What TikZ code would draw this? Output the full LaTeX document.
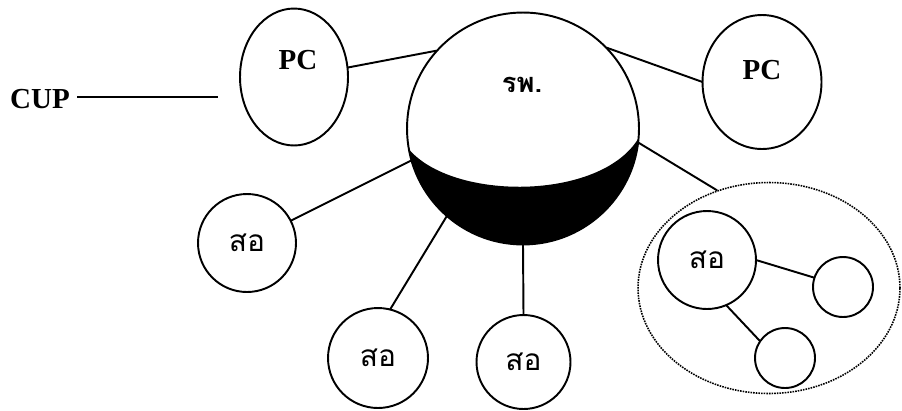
\documentclass[tikz,border=0pt]{standalone}
\usepackage{fontspec}
\setmainfont{Liberation Serif}
\newfontfamily\thaifont[Script=Thai]{Loma}
\usetikzlibrary{shapes.geometric}
\begin{document}
\begin{tikzpicture}[x=0.02cm,y=-0.02cm,
  ln/.style={line width=1.1pt},
  ring/.style={circle,draw,line width=1.1pt,inner sep=0pt,outer sep=0pt},
  oval/.style={ellipse,draw,line width=1.1pt,inner sep=0pt,outer sep=0pt},
  lat/.style={font=\fontsize{16.5}{18}\selectfont\bfseries,inner sep=0pt},
  thai/.style={font=\thaifont\fontsize{17}{20}\selectfont}]
\useasboundingbox (0,0) rectangle (902,410);
% big circle with dark lower part
\node[circle,inner sep=0pt,minimum size=4.64cm] (big) at (523,128.5) {};
\fill[black] (big.190) arc[start angle=190,end angle=355,radius=2.32cm]
  .. controls (600,201) and (452,201) .. (big.190) -- cycle;
\node[ring,minimum size=4.64cm] at (523,128.5) {};
\node[thai,font=\thaifont\fontsize{15.5}{18}\selectfont\bfseries] (rpt) at (522,85) {รพ.};
% PC nodes
\node[oval,minimum width=2.16cm,minimum height=2.74cm] (pcL) at (294,77) {};
\node[lat] (pcLt) at (298,60) {PC};
\node[oval,minimum width=2.38cm,minimum height=2.68cm] (pcR) at (762,82) {};
\node[lat] (pcRt) at (762,70) {PC};
% CUP
\node[lat] (cup) at (40,99) {CUP};
\coordinate (cupend) at (218,97);
\draw[ln] ([xshift=4pt]cup.east |- cupend) -- (cupend);
% sub nodes
\node[ring,thai,minimum size=1.96cm] (s1) at (247,243) {สอ};
\node[ring,thai,minimum size=2.0cm] (s2) at (378,358) {สอ};
\node[ring,thai,minimum size=1.88cm] (s3) at (523.5,362) {สอ};
% group
\node[ellipse,draw,line width=0.9pt,dash pattern=on 0.9pt off 0.6pt,inner sep=0pt,
  minimum width=5.24cm,minimum height=4.22cm] (grp) at (769,288) {};
\node[ring,thai,minimum size=1.96cm] (s4) at (707,260) {สอ};
\node[ring,minimum size=1.2cm] (c1) at (843,287) {};
\node[ring,minimum size=1.2cm] (c2) at (785,358) {};
% connectors
\draw[ln] (pcL.10) -- (big.138);
\draw[ln] (big.44) -- (pcR.180);
\draw[ln] (big.-7) -- (grp.118);
\draw[ln] (big.196) -- (s1.27);
\draw[ln] (big.229) -- (s2.76);
\draw[ln] (big.270) -- (s3.90);
\draw[ln] (s4.0) -- (c1.162);
\draw[ln] (s4.293) -- (c2.146);
\end{tikzpicture}
\end{document}
